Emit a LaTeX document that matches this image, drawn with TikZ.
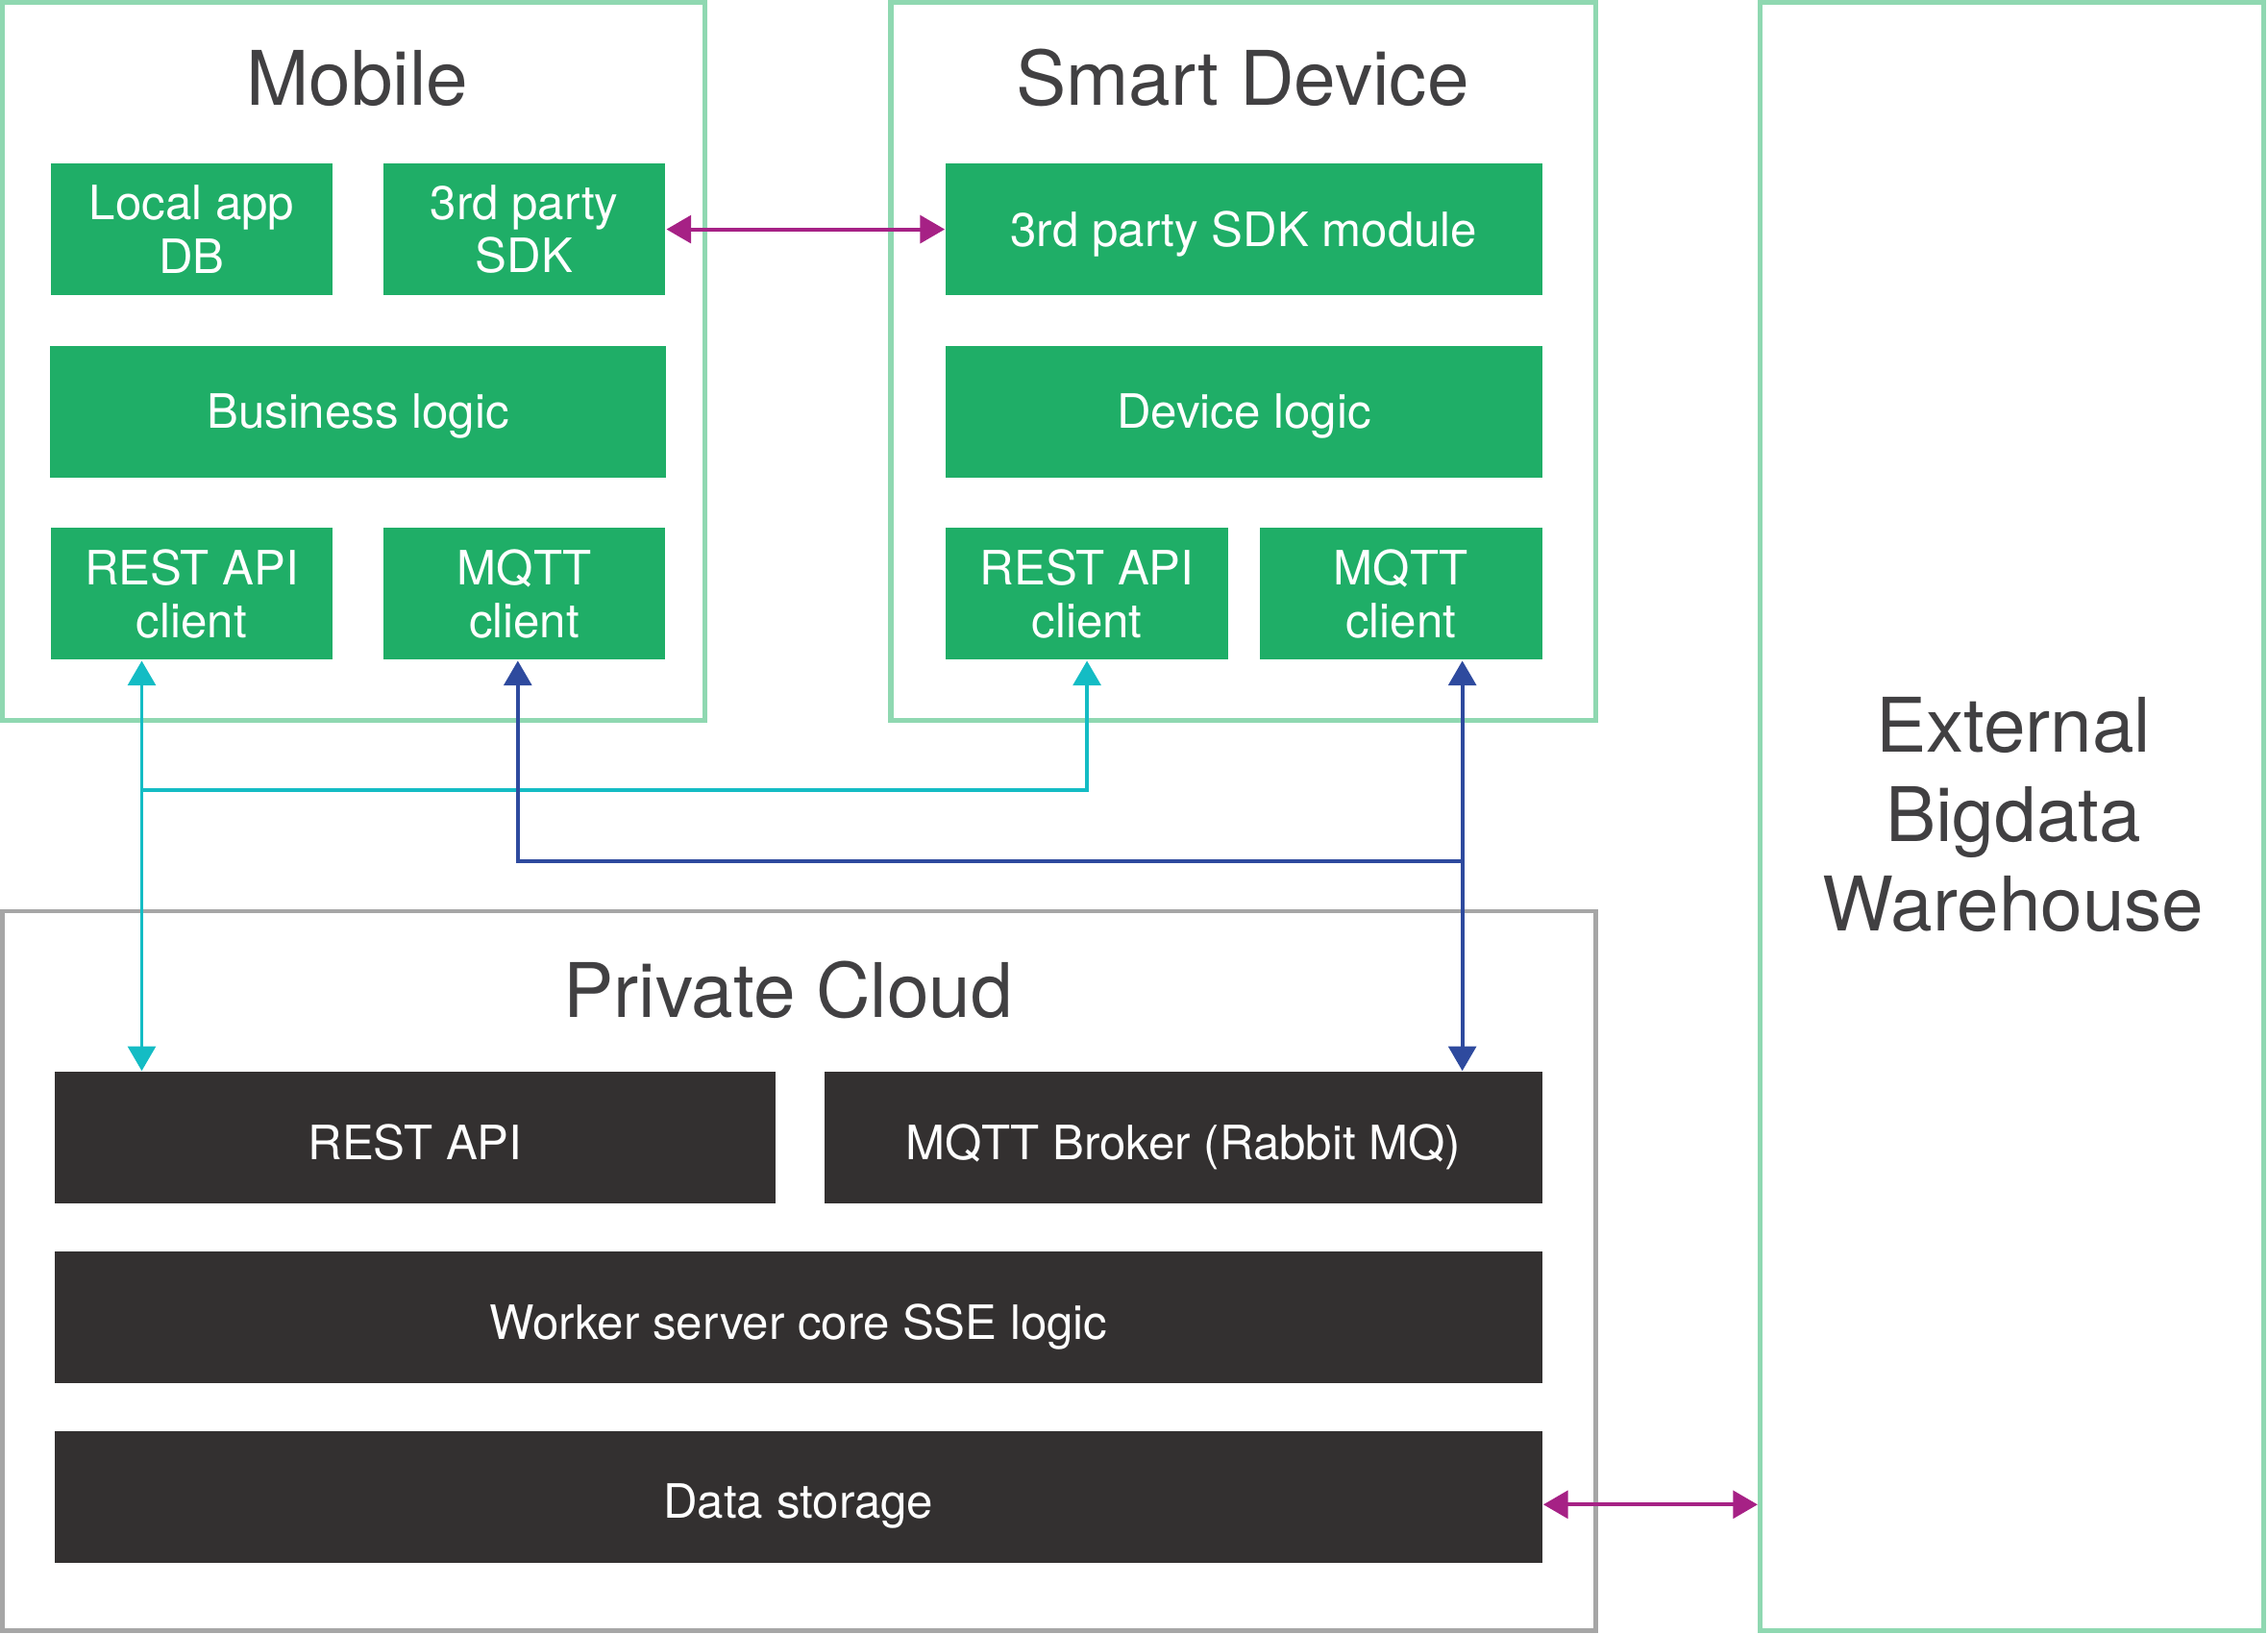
\documentclass[tikz,border=0pt]{standalone}
\usepackage{fontspec}
\setmainfont{TeX Gyre Heros}
\usetikzlibrary{arrows.meta}

\definecolor{framegreen}{HTML}{8FD8B1}
\definecolor{framegray}{HTML}{A6A6A6}
\definecolor{boxgreen}{HTML}{1FAE67}
\definecolor{boxdark}{HTML}{333030}
\definecolor{titlegray}{HTML}{414042}
\definecolor{restcyan}{HTML}{14BCC4}
\definecolor{mqttblue}{HTML}{2E4A9E}
\definecolor{sdkmagenta}{HTML}{A62185}

\tikzset{
  frame/.style={draw=framegreen, line width=1pt, inner sep=0pt},
  cloudframe/.style={draw=framegray, line width=0.8pt, inner sep=0pt},
  greenbox/.style={fill=boxgreen, text=white, align=center, inner sep=0pt,
    minimum height=0.91cm, font=\fontsize{9.3}{10.5}\selectfont},
  oneline/.style={text height=#1, text depth=0pt},
  oneline/.default=6.6pt,
  darkbox/.style={greenbox, oneline=8.6pt, fill=boxdark},
  title/.style={text=titlegray, align=center, font=\fontsize{14.8}{17.6}\selectfont},
  link/.style={line width=0.75pt},
  >={Triangle[length=0.17cm,width=0.19cm]}
}

\begin{document}
\begin{tikzpicture}[x=0.01cm, y=-0.01cm]
    \useasboundingbox (0,0) rectangle (1568,1129);
    % outer frames
      \node (mobile) [frame, minimum width=4.85cm, minimum height=4.96cm] at (244.5,250) {};
      \node (smart) [frame, minimum width=4.87cm, minimum height=4.96cm] at (859.5,250) {};
      \node (ext) [frame, minimum width=3.48cm, minimum height=11.25cm] at (1391,564.5) {};
      \node (cloud) [cloudframe, minimum width=11.01cm, minimum height=4.97cm] at (552.5,878.5) {};
      \node (mobiletitle) [title, anchor=base] at (247,73) {Mobile};
      \node (smarttitle) [title, anchor=base] at (859,73) {Smart Device};
      \node (cloudtitle) [title, anchor=base] at (545,703) {Private Cloud};
      \node (exttitle) [title] at (1392,563) {External\\Bigdata\\Warehouse};
    % mobile
      \node (localdb) [greenbox, minimum width=1.95cm] at (132.5,158.5) {Local app\\DB};
      \node (sdk) [greenbox, minimum width=1.95cm] at (362.5,158.5) {3rd party\\SDK};
      \node (business) [greenbox, oneline, minimum width=4.25cm] at (247.5,284.5) {Business logic};
      \node (mrest) [greenbox, minimum width=1.95cm] at (132.5,410.5) {REST API\\client};
      \node (mmqtt) [greenbox, minimum width=1.95cm] at (362.5,410.5) {MQTT\\client};
    % smart device
      \node (sdkmod) [greenbox, oneline, minimum width=4.12cm] at (860,158.5) {3rd party SDK module};
      \node (devlogic) [greenbox, oneline, minimum width=4.12cm] at (860,284.5) {Device logic};
      \node (srest) [greenbox, minimum width=1.95cm] at (751.5,410.5) {REST API\\client};
      \node (smqtt) [greenbox, minimum width=1.95cm] at (968.5,410.5) {MQTT\\client};
    % private cloud
      \node (restapi) [darkbox, minimum width=4.98cm] at (287,786.5) {REST API};
      \node (broker) [darkbox, minimum width=4.96cm] at (818,786.5) {MQTT Broker (Rabbit MQ)};
      \node (worker) [darkbox, minimum width=10.28cm] at (552,910.5) {Worker server core SSE logic};
      \node (storage) [darkbox, minimum width=10.28cm] at (552,1034.5) {Data storage};
    % connectors
      \coordinate (restjoin) at (98,546);
      \coordinate (mqttleft) at (358,595);
      \coordinate (mqttright) at (1011,595);
      \coordinate (storejoin) at (1100,1040);
    \draw [link, sdkmagenta, <->] (sdk.east) -- (sdkmod.west);
    \draw [link, restcyan, <->] (restjoin |- mrest.south) -- (restjoin |- restapi.north);
    \draw [link, restcyan, ->] (restjoin) -| (srest.south);
    \draw [link, mqttblue, <->] (mqttright |- smqtt.south) -- (mqttright |- broker.north);
    \draw [link, mqttblue, ->] (mqttright) -- (mqttleft) -- (mqttleft |- mmqtt.south);
    \draw [link, sdkmagenta, <->] (storage.east |- storejoin) -- (ext.west |- storejoin);
\end{tikzpicture}
\end{document}
